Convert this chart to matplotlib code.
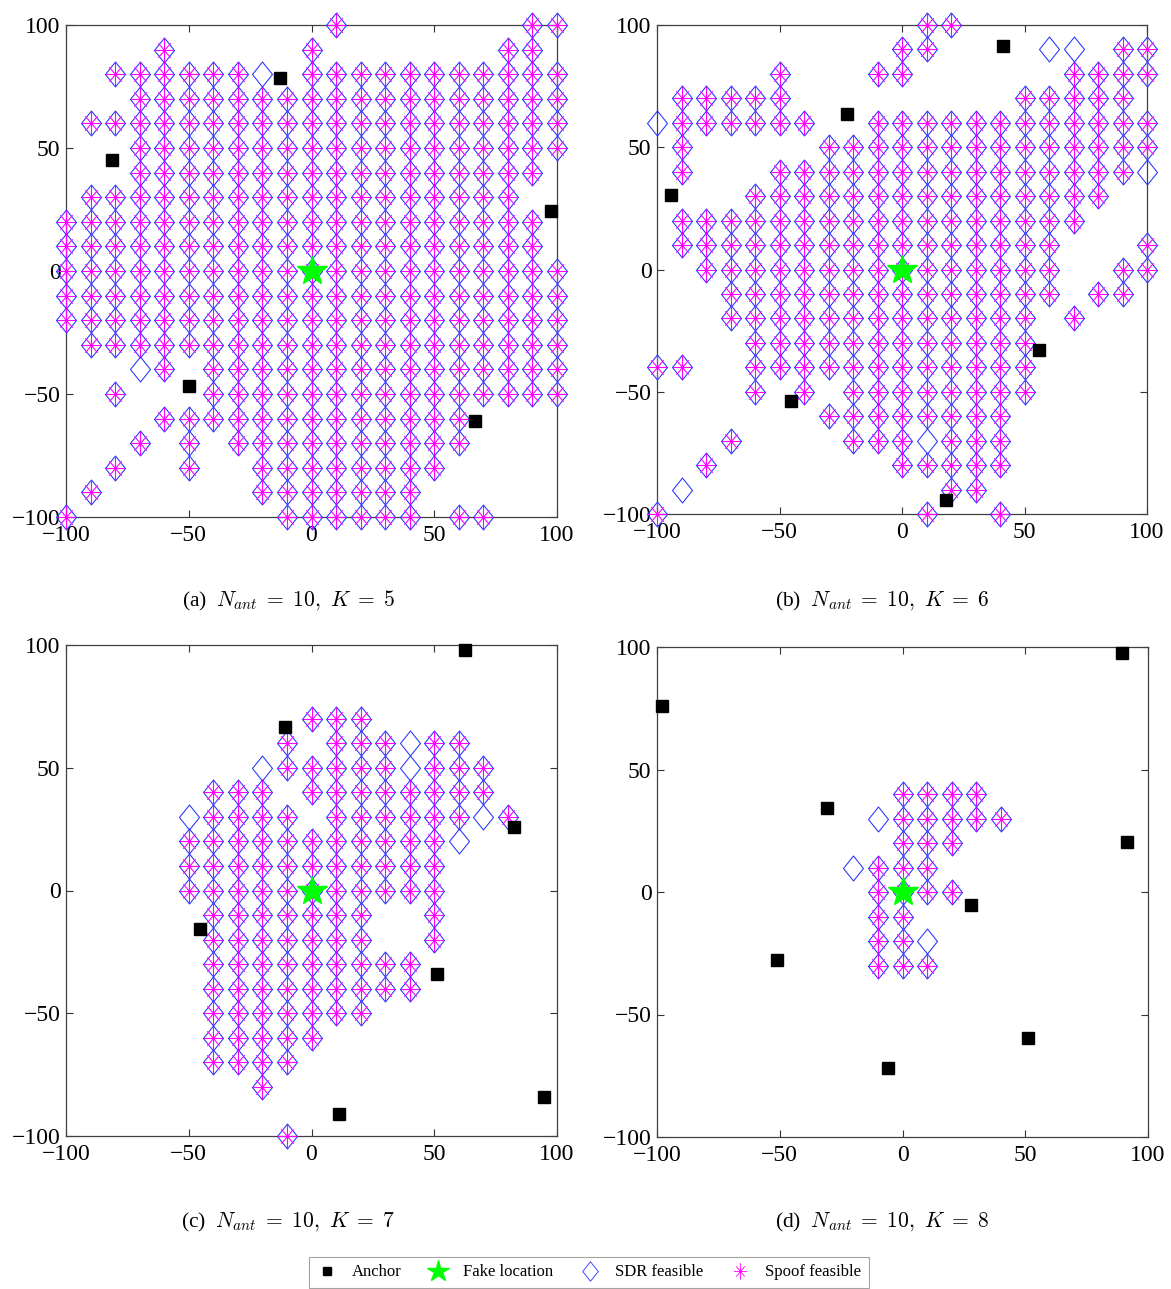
import numpy as np
import matplotlib.pyplot as plt
from matplotlib.path import Path
from matplotlib.lines import Line2D

plt.rcParams['font.family'] = ['Liberation Serif', 'DejaVu Serif']
plt.rcParams['mathtext.fontset'] = 'cm'

# candidate grid (x from -100 to 100, rows from y=100 down to y=-100)
grid_x = np.arange(-100, 101, 10)
grid_y = np.arange(100, -101, -10)

# 'o' = SDR feasible and spoof feasible, 'd' = SDR feasible only, '.' = none
grid_a = ["...........o.......oo",
          "....o.....o.......oo.",
          "..ooooood.ooooooooooo",
          "...oooooooooooooooooo",
          ".oooooooooooooooooooo",
          "...oooooooooooooooooo",
          "...ooooooooooooooooo.",
          ".oooooooooooooooooo..",
          "oooooooooooooooooooo.",
          "oooooooooooooooooooo.",
          "ooooooooooooooooooooo",
          "ooooooooooooooooooooo",
          "ooooooooooooooooooooo",
          ".oooooooooooooooooooo",
          "...do.ooooooooooooooo",
          "..o...ooooooooooooooo",
          "....ooooooooooooo....",
          "...o.o.oooooooooo....",
          "..o..o..oooooooo.....",
          ".o......ooooooo......",
          "o........oooooo.oo..."]

grid_b = ["...........oo........",
          "..........oo....dd.oo",
          ".....o...oo......oooo",
          ".ooooo.........ooooo.",
          "doooooo..oooooooooooo",
          ".o.....oooooooooooooo",
          ".o...oooooooooooooood",
          "....ooooooooooooooo..",
          ".ooooooooooooooooo...",
          ".oooooooooooooooo...o",
          "..ooooooooooooooo..oo",
          "...oooooooooooooo.oo.",
          "...ooooooooooooo.o...",
          "....oooooooooooo.....",
          "oo..oooooooooooo.....",
          "....o.o.oooooooo.....",
          ".......oooooooo......",
          "...o....ooodooo......",
          "..o.......ooooo......",
          ".d..........oo.......",
          "o..........o..o......"]

grid_c = [".....................",
          ".....................",
          ".....................",
          "..........ooo........",
          ".........o.ooodoo....",
          "........dooooodooo...",
          "......ooo.oooooooo...",
          ".....doooo.oooooodo..",
          ".....oooooooooood.....",
          ".....ooooooooooo.....",
          ".....ooooooooooo.....",
          "......ooooooo..o.....",
          "......ooooooo..o.....",
          "......ooooooooo......",
          "......ooooooooo......",
          "......ooooooo........",
          "......ooooo..........",
          "......oooo...........",
          "........o............",
          ".....................",
          ".........o..........."]

grid_d = [".....................",
          ".....................",
          ".....................",
          ".....................",
          ".....................",
          ".....................",
          "..........oooo.......",
          ".........dooooo......",
          "..........ooo........",
          "........dooo.........",
          ".........oooo........",
          ".........oo..........",
          ".........ood.........",
          ".........ooo.........",
          ".....................",
          ".....................",
          ".....................",
          ".....................",
          ".....................",
          ".....................",
          "....................."]

anchor_a_x = [-12.9, -81.4, 97.6, -50.1, 66.5]
anchor_a_y = [78.5, 45.2, 24.4, -46.9, -61.0]
anchor_b_x = [41.4, -22.3, -94.4, 56.1, -45.5, 17.8]
anchor_b_y = [91.4, 63.4, 30.4, -32.8, -53.8, -94.1]
anchor_c_x = [62.6, -10.9, 82.6, -45.4, 51.0, 11.3, 94.7]
anchor_c_y = [98.0, 66.4, 25.8, -15.6, -33.9, -91.2, -84.1]
anchor_d_x = [-97.8, 89.4, 91.4, -30.8, 27.8, -51.1, 51.1, -5.9]
anchor_d_y = [75.8, 97.6, 20.3, 34.3, -5.4, -27.6, -59.6, -72.0]

fake_x, fake_y = 0, 0

captions = [r'(a)  $N_{ant}\;=\;10,\ K\;=\;5$', r'(b)  $N_{ant}\;=\;10,\ K\;=\;6$',
            r'(c)  $N_{ant}\;=\;10,\ K\;=\;7$', r'(d)  $N_{ant}\;=\;10,\ K\;=\;8$']
ticks = [-100, -50, 0, 50, 100]


def feasible_points(rows):
    sdr, spoof = [], []
    for yv, row in zip(grid_y, rows):
        for xv, c in zip(grid_x, row):
            if c in 'od':
                sdr.append((xv, yv))
            if c == 'o':
                spoof.append((xv, yv))
    return np.array(sdr).reshape(-1, 2), np.array(spoof).reshape(-1, 2)


# matlab-like markers
diamond = Path([(0, 1), (0.8, 0), (0, -1), (-0.8, 0), (0, 1)],
               [Path.MOVETO, Path.LINETO, Path.LINETO, Path.LINETO, Path.CLOSEPOLY])
asterisk = Path([(-0.8, 0), (0.8, 0), (0, -1), (0, 1),
                 (-0.52, -0.62), (0.52, 0.62), (-0.52, 0.62), (0.52, -0.62)],
                [Path.MOVETO, Path.LINETO] * 4)

W, H = 1171, 1289
fig = plt.figure(figsize=(W / 100, H / 100), dpi=100)

# axes boxes in pixels: left, top, right, bottom
boxes = [(66, 25, 557, 517), (657, 25, 1147, 514),
         (66, 645, 557, 1136), (657, 647, 1148, 1137)]
grids = [grid_a, grid_b, grid_c, grid_d]
anchors = [(anchor_a_x, anchor_a_y), (anchor_b_x, anchor_b_y),
           (anchor_c_x, anchor_c_y), (anchor_d_x, anchor_d_y)]
cap_pos = [(288, 601), (882, 601), (288, 1222), (882, 1222)]

for box, rows, (ax_x, ax_y), cap, cp in zip(boxes, grids, anchors, captions, cap_pos):
    l, t, r, b = box
    ax = fig.add_axes([l / W, 1 - b / H, (r - l) / W, (b - t) / H])
    sdr, spoof = feasible_points(rows)
    if len(sdr):
        ax.plot(sdr[:, 0], sdr[:, 1], ls='none', marker=diamond, ms=18,
                mfc='none', mec='#2233ff', mew=0.75, clip_on=False, zorder=3)
    if len(spoof):
        ax.plot(spoof[:, 0], spoof[:, 1], ls='none', marker=asterisk, ms=17,
                mfc='none', mec='#ff00ff', mew=0.8, clip_on=False, zorder=4)
    ax.plot(ax_x, ax_y, ls='none', marker='s', ms=9, color='k',
            clip_on=False, zorder=5)
    ax.plot(fake_x, fake_y, ls='none', marker='*', ms=22, color='#00ff00',
            clip_on=False, zorder=6)
    ax.set_xlim(-100, 100)
    ax.set_ylim(-100, 100)
    ax.set_xticks(ticks)
    ax.set_yticks(ticks)
    ax.tick_params(direction='in', top=True, right=True, length=5,
                   width=0.8, labelsize=17, color='0.2')
    ax.tick_params(axis='x', pad=6)
    ax.tick_params(axis='y', pad=4)
    for sp in ax.spines.values():
        sp.set_color('0.25')
        sp.set_linewidth(0.9)
    fig.text(cp[0] / W, 1 - cp[1] / H, cap, ha='center', va='center', fontsize=15.5)

# legend at the bottom
handles = [Line2D([], [], ls='none', marker='s', ms=6, color='k'),
           Line2D([], [], ls='none', marker='*', ms=16, color='#00ff00'),
           Line2D([], [], ls='none', marker=diamond, ms=14, mfc='none', mec='#2233ff', mew=0.6),
           Line2D([], [], ls='none', marker=asterisk, ms=12, mfc='none', mec='#ff00ff', mew=0.6)]
labels = ['Anchor', 'Fake location', 'SDR feasible', 'Spoof feasible']
leg = fig.legend(handles, labels, loc='upper center', ncol=4,
                 bbox_to_anchor=(589 / W, 1 - 1257 / H), fontsize=12,
                 frameon=True, fancybox=False, edgecolor='0.55',
                 handlelength=1.2, handletextpad=0.9, columnspacing=1.6,
                 borderpad=0.45, borderaxespad=0)
leg.get_frame().set_linewidth(0.8)

fig.savefig('out.png', dpi=100)
